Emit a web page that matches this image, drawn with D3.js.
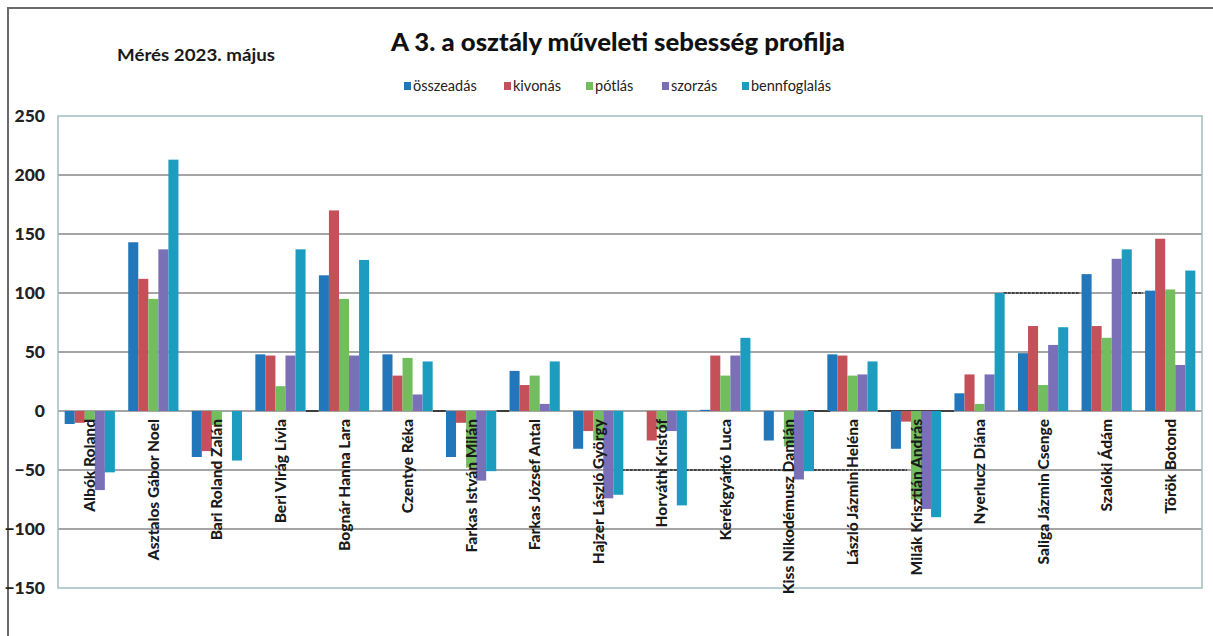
<!DOCTYPE html>
<html><head><meta charset="utf-8">
<script src="https://cdn.jsdelivr.net/npm/d3@7"></script>
<style>body{margin:0;background:#fff} svg{display:block}</style>
</head><body><svg id="c" width="1213" height="636"></svg>
<script>
const categories = ["Albók Roland","Asztalos Gábor Noel","Bari Roland Zalán","Beri Virág Lívia","Bognár Hanna Lara","Czentye Réka","Farkas István Milán","Farkas József Antal","Hajzer László György","Horváth Kristóf","Kerékgyártó Luca","Kiss Nikodémusz Damián","László Jázmin Heléna","Milák Krisztián András","Nyerlucz Diána","Saliga Jázmin Csenge","Szalóki Ádám","Török Botond"];
const seriesNames = ["összeadás","kivonás","pótlás","szorzás","bennfoglalás"];
const osszeadas    = [-11, 143, -39,  48, 115, 48, -39, 34, -32,   0,  1, -25, 48, -32,  15, 49, 116, 102];
const kivonas      = [-10, 112, -34,  47, 170, 30, -10, 22, -17, -25, 47,   0, 47,  -9,  31, 72,  72, 146];
const potlas       = [ -9,  95, -12,  21,  95, 45, -48, 30, -25, -15, 30, -30, 30, -75,   6, 22,  62, 103];
const szorzas      = [-67, 137,   0,  47,  47, 14, -59,  6, -74, -17, 47, -58, 31, -83,  31, 56, 129,  39];
const bennfoglalas = [-52, 213, -42, 137, 128, 42, -51, 42, -71, -80, 62, -51, 42, -90, 100, 71, 137, 119];
const yTicks = [250, 200, 150, 100, 50, 0, -50, -100, -150];
const titleText = "A 3. a osztály műveleti sebesség profilja";
const subtitleText = "Mérés 2023. május";
// darker pen-marked segments on the gridlines (category-index span, value)
const markFrom  = [3.9, 5.9, 6.9, 11.8, 12.9, 8.87, 14.88, 16.87];
const markTo    = [4.1, 6.1, 7.1, 12.15, 14.1, 13.36, 16.08, 17.07];
const markValue = [0, 0, 0, 0, 0, -50, 100, 100];

const seriesValues = [osszeadas, kivonas, potlas, szorzas, bennfoglalas];
const colors = ["#2276ba", "#c4505a", "#72bd5e", "#7a70b8", "#1c9cbf"];

const svg = d3.select("#c");
const W = 1213, H = 636;
const plot = {left: 58, right: 1202, top: 116, bottom: 588};
const font = "Lato, 'Open Sans', sans-serif";

// outer frame
svg.append("path").attr("d", `M8,${H} L8,8 L${W},8`).attr("fill", "none")
  .attr("stroke", "#6a6a6a").attr("stroke-width", 2);

const x0 = d3.scaleBand().domain(categories).range([plot.left, plot.right])
  .paddingInner(0.21).paddingOuter(0.105);
const x1 = d3.scaleBand().domain(seriesNames).range([0, x0.bandwidth()]).padding(0);
const y = d3.scaleLinear().domain([-150, 250]).range([plot.bottom, plot.top]);
const idx = d3.scaleLinear().domain([0, categories.length]).range([plot.left, plot.right]);

// gridlines
svg.append("g").selectAll("line").data(yTicks.filter(t => t > -150 && t < 250)).join("line")
  .attr("x1", plot.left).attr("x2", plot.right)
  .attr("y1", d => y(d)).attr("y2", d => y(d))
  .attr("stroke", "#878787").attr("stroke-width", 1.5);

// plot border
svg.append("rect").attr("x", plot.left).attr("y", plot.top)
  .attr("width", plot.right - plot.left).attr("height", plot.bottom - plot.top)
  .attr("fill", "none").attr("stroke", "#a3bcc4").attr("stroke-width", 1.5);

// marked segments
svg.append("g").selectAll("line").data(markFrom).join("line")
  .attr("x1", (d, i) => idx(markFrom[i])).attr("x2", (d, i) => idx(markTo[i]))
  .attr("y1", (d, i) => y(markValue[i])).attr("y2", (d, i) => y(markValue[i]))
  .attr("stroke", "#222").attr("stroke-width", 1.6)
  .attr("stroke-dasharray", (d, i) => markValue[i] === 0 ? null : "3,1");

// bars
const rows = categories.map((c, i) => ({c, vals: seriesNames.map((s, k) => ({s, k, v: seriesValues[k][i]}))}));
const g = svg.append("g").selectAll("g").data(rows).join("g")
  .attr("transform", d => `translate(${x0(d.c)},0)`);
g.selectAll("rect").data(d => d.vals).join("rect")
  .attr("x", d => x1(d.s)).attr("width", x1.bandwidth())
  .attr("y", d => y(Math.max(0, d.v)))
  .attr("height", d => Math.abs(y(d.v) - y(0)))
  .attr("fill", d => colors[d.k]);

// y axis
const yAxis = svg.append("g").attr("transform", `translate(${plot.left},0)`)
  .call(d3.axisLeft(y).tickValues(yTicks).tickSize(0).tickPadding(13).tickFormat(d3.format("d")));
yAxis.select(".domain").remove();
yAxis.selectAll("text").attr("font-family", font).attr("font-weight", "900")
  .attr("font-size", 17.5).attr("fill", "#222");

// category labels
svg.append("g").selectAll("text").data(categories).join("text")
  .attr("transform", d => `translate(${x0(d) + x0.bandwidth() / 2},${y(0) + 8}) rotate(-90)`)
  .attr("text-anchor", "end").attr("dy", "0.36em")
  .attr("font-family", font).attr("font-weight", "900").attr("font-size", 15.5)
  .attr("fill", "#1a1a1a").text(d => d);

// title & subtitle
svg.append("text").attr("x", 618).attr("y", 51).attr("text-anchor", "middle")
  .attr("font-family", font).attr("font-weight", "900").attr("font-size", 24)
  .attr("textLength", 454).attr("lengthAdjust", "spacingAndGlyphs")
  .attr("fill", "#111").text(titleText);
svg.append("text").attr("x", 117).attr("y", 61)
  .attr("font-family", font).attr("font-weight", "bold").attr("font-size", 17)
  .attr("textLength", 158).attr("lengthAdjust", "spacingAndGlyphs")
  .attr("fill", "#1a1a1a").text(subtitleText);

// legend
const legendX = [404, 504, 586, 662, 742];
const lg = svg.append("g").selectAll("g").data(seriesNames).join("g")
  .attr("transform", (d, i) => `translate(${legendX[i]},86)`);
lg.append("rect").attr("x", 0).attr("y", -4).attr("width", 7).attr("height", 8)
  .attr("fill", (d, i) => colors[i]);
lg.append("text").attr("x", 9).attr("dy", "0.35em")
  .attr("font-family", font).attr("font-size", 14.5).attr("fill", "#222").text(d => d);
</script>
</body></html>
